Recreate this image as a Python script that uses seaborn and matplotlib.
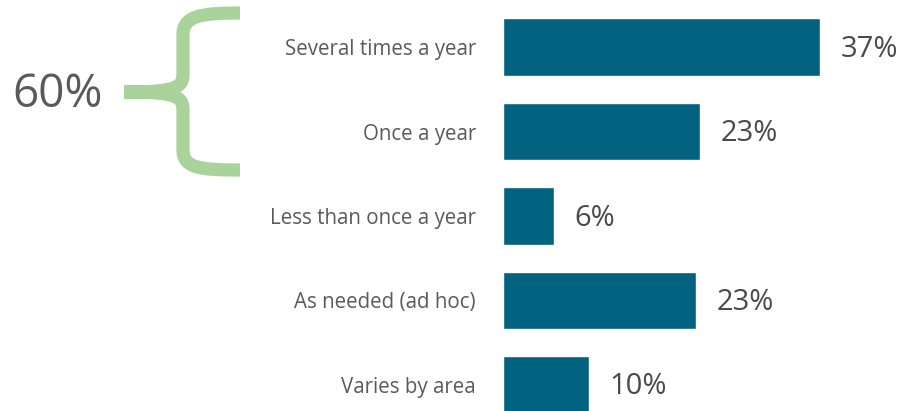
import matplotlib
matplotlib.use("Agg")
import matplotlib.pyplot as plt
import seaborn as sns
import pandas as pd
from matplotlib.path import Path
from matplotlib.patches import PathPatch

categories = ["Several times a year", "Once a year", "Less than once a year",
              "As needed (ad hoc)", "Varies by area"]
values = [37, 23, 6, 22.5, 10]
value_labels = ["37%", "23%", "6%", "23%", "10%"]
bracket_label = "60%"

BAR = "#03627f"
GREEN = "#a9d39a"
TXT = "#5a5a5a"
VAL = "#4a4a4a"

sns.set_style("white")
plt.rcParams["font.family"] = ["Open Sans", "DejaVu Sans"]

W, H = 902, 411
fig = plt.figure(figsize=(W / 100, H / 100), dpi=100)
ax = fig.add_axes([503 / W, 0, (W - 503) / W, 1])

df = pd.DataFrame({"cat": categories, "val": values})
sns.barplot(data=df, y="cat", x="val", orient="h", color=BAR, width=0.684,
            saturation=1, ax=ax)

ax.set_xlim(0, (W - 503) / 8.58)
ax.set_ylim(4.31, -0.559)
for s in ax.spines.values():
    s.set_visible(False)
ax.set_xticks([])
ax.set_xlabel("")
ax.set_ylabel("")
ax.tick_params(axis="y", length=0, pad=19.5, labelsize=14.8, labelcolor=TXT)

for i, (v, lab) in enumerate(zip(values, value_labels)):
    ax.annotate(lab, xy=(v, i), xytext=(14.5, -1.5), textcoords="offset points",
                va="center", ha="left", fontsize=21, fontweight="medium",
                color=VAL)

# brace in figure pixel coordinates (y measured from top)
def P(x, y):
    return (x, H - y)

verts = [
    P(124, 92), P(175, 92), P(183, 88), P(183, 74),
    P(183, 35),
    P(183, 16), P(200, 13), P(240, 13),
    P(124, 92), P(175, 92), P(183, 96), P(183, 110),
    P(183, 150),
    P(183, 168), P(200, 170), P(240, 170),
]
codes = [Path.MOVETO, Path.CURVE4, Path.CURVE4, Path.CURVE4,
         Path.LINETO,
         Path.CURVE4, Path.CURVE4, Path.CURVE4,
         Path.MOVETO, Path.CURVE4, Path.CURVE4, Path.CURVE4,
         Path.LINETO,
         Path.CURVE4, Path.CURVE4, Path.CURVE4]
brace = PathPatch(Path(verts, codes), facecolor="none", edgecolor=GREEN,
                  linewidth=9.5, capstyle="butt", joinstyle="round",
                  transform=None)
fig.add_artist(brace)

fig.text(12 / W, 1 - 95 / H, bracket_label, ha="left", va="center",
         fontsize=33, color=TXT)

fig.savefig("out.png", dpi=100, facecolor="white")
